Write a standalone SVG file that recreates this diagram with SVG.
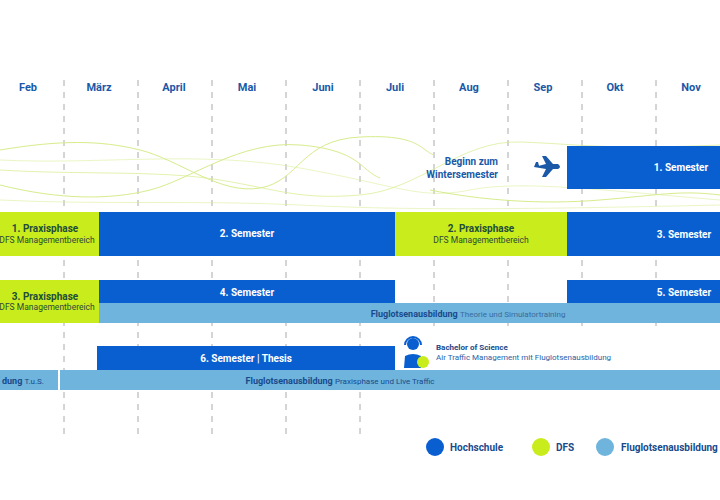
<svg xmlns="http://www.w3.org/2000/svg" width="720" height="500" viewBox="0 0 720 500">
<style>
text{font-family:Roboto,"Liberation Sans",sans-serif}
.m{font-size:11px;font-weight:bold;fill:#1a58a8;text-anchor:middle}
.w{font-size:10px;font-weight:bold;fill:#fff;text-anchor:middle}
.g1{font-size:10px;font-weight:bold;fill:#1f4d3a;text-anchor:middle}
.g2{font-size:8.5px;fill:#2a4a3a;text-anchor:middle}
.lb{font-size:9px;font-weight:bold;fill:#184a8c;text-anchor:middle}
.lbs{font-weight:normal;font-size:8px}
.hs{fill:#0a5fd0}.df{fill:#c8ec1c}.fl{fill:#6eb4dd}
.grid line{stroke:#aaa;stroke-width:1;stroke-dasharray:6,6}
.wave path{fill:none;stroke:#d6ec8c;stroke-width:1}
</style>
<rect width="720" height="500" fill="#fff"/>
<g class="grid">
<line x1="64" y1="80" x2="64" y2="440"/><line x1="138" y1="80" x2="138" y2="440"/><line x1="212" y1="80" x2="212" y2="440"/><line x1="286" y1="80" x2="286" y2="440"/><line x1="360" y1="80" x2="360" y2="440"/><line x1="434" y1="80" x2="434" y2="330"/><line x1="508" y1="80" x2="508" y2="330"/><line x1="582" y1="80" x2="582" y2="330"/><line x1="656" y1="80" x2="656" y2="330"/>
</g>
<g id="months">
<text class="m" x="28" y="91">Feb</text><text class="m" x="99" y="91">März</text><text class="m" x="174" y="91">April</text><text class="m" x="247" y="91">Mai</text><text class="m" x="323" y="91">Juni</text><text class="m" x="395" y="91">Juli</text><text class="m" x="469" y="91">Aug</text><text class="m" x="543" y="91">Sep</text><text class="m" x="615" y="91">Okt</text><text class="m" x="691" y="91">Nov</text>
</g>
<g class="wave">
<path d="M0 150 C60 140 100 140 140 150 S220 195 260 188 S300 140 360 137 S420 150 434 155"/>
<path d="M0 185 C60 200 110 200 150 190 S240 140 300 145 S360 170 380 178"/>
<path d="M0 170 C80 175 160 170 220 180 S300 200 360 195 S460 140 520 142 S600 150 720 145" stroke-opacity="0.7"/>
<path d="M0 160 C100 165 200 150 300 168 S420 200 470 190 S600 190 720 200" stroke-opacity="0.5"/>
<path d="M430 190 C480 200 540 205 600 200 S680 190 720 195"/>
<path d="M0 200 C100 205 200 200 300 205 S500 210 720 205" stroke-opacity="0.5"/>
</g>
<g id="start">
<text x="498" y="165" style="font-size:10px;font-weight:bold;fill:#1a58a8;text-anchor:end">Beginn zum</text>
<text x="498" y="178" style="font-size:10px;font-weight:bold;fill:#1a58a8;text-anchor:end">Wintersemester</text>
<path d="M534 167 L546 164 L542 156 L546 156 L553 164 L558 164 Q562 167 558 169 L553 169 L546 177 L542 177 L546 169 L534 167 Z M534 167 L536 162 L538 162 L539 166 Z" fill="#1a58a8"/>
</g>
<g id="sem1"><rect class="hs" x="567" y="146" width="153" height="43"/><text class="w" x="681" y="171">1. Semester</text></g>
<g id="prax1"><rect class="df" x="0" y="212" width="99" height="44"/><text class="g1" x="45" y="232">1. Praxisphase</text><text class="g2" x="47" y="243">DFS Managementbereich</text></g>
<g id="sem2"><rect class="hs" x="99" y="212" width="296" height="44"/><text class="w" x="247" y="237">2. Semester</text></g>
<g id="prax2"><rect class="df" x="395" y="212" width="172" height="44"/><text class="g1" x="481" y="232">2. Praxisphase</text><text class="g2" x="481" y="243">DFS Managementbereich</text></g>
<g id="sem3"><rect class="hs" x="567" y="212" width="153" height="44"/><text class="w" x="684" y="238">3. Semester</text></g>
<g id="prax3"><rect class="df" x="0" y="280" width="99" height="43"/><text class="g1" x="45" y="300">3. Praxisphase</text><text class="g2" x="47" y="310">DFS Managementbereich</text></g>
<g id="sem4"><rect class="hs" x="99" y="280" width="296" height="23"/><text class="w" x="247" y="296">4. Semester</text></g>
<g id="sem5"><rect class="hs" x="567" y="280" width="153" height="23"/><text class="w" x="684" y="296">5. Semester</text></g>
<g id="flug1"><rect class="fl" x="99" y="303" width="621" height="20"/><text class="lb" x="468" y="317">Fluglotsenausbildung <tspan class="lbs" fill="#3b6a9a">Theorie und Simulatortraining</tspan></text></g>
<g id="sem6"><rect class="hs" x="97" y="346" width="298" height="24"/><text class="w" x="246" y="362">6. Semester | Thesis</text></g>
<g id="flug2a"><rect class="fl" x="0" y="370" width="58" height="20"/><text class="lb" x="2" y="384" style="text-anchor:start">dung <tspan class="lbs">T.u.S.</tspan></text></g>
<g id="flug2"><rect class="fl" x="60" y="370" width="660" height="20"/><text class="lb" x="340" y="384">Fluglotsenausbildung <tspan class="lbs">Praxisphase und Live Traffic</tspan></text></g>
<g id="bsc">
<circle cx="413" cy="344" r="6" fill="#0a5fd0"/>
<path d="M405 345 A8 8 0 0 1 421 345" fill="none" stroke="#0a5fd0" stroke-width="2"/>
<path d="M404 368 L405 356 Q413 352 421 356 L421 368 Z" fill="#0a5fd0"/>
<circle cx="423" cy="362" r="6" fill="#c8ec1c"/>
<text x="436" y="350" style="font-size:8px;font-weight:bold;fill:#184a8c">Bachelor of Science</text>
<text x="436" y="360" style="font-size:8px;fill:#2a5fa8">Air Traffic Management mit Fluglotsenausbildung</text>
</g>
<g id="legend">
<circle class="hs" cx="435" cy="447" r="9"/><text x="450" y="451" style="font-size:10px;font-weight:bold;fill:#184a8c">Hochschule</text>
<circle class="df" cx="541" cy="447" r="9"/><text x="556" y="451" style="font-size:10px;font-weight:bold;fill:#184a8c">DFS</text>
<circle class="fl" cx="605" cy="447" r="9"/><text x="621" y="451" style="font-size:10px;font-weight:bold;fill:#184a8c">Fluglotsenausbildung</text>
</g>
</svg>
